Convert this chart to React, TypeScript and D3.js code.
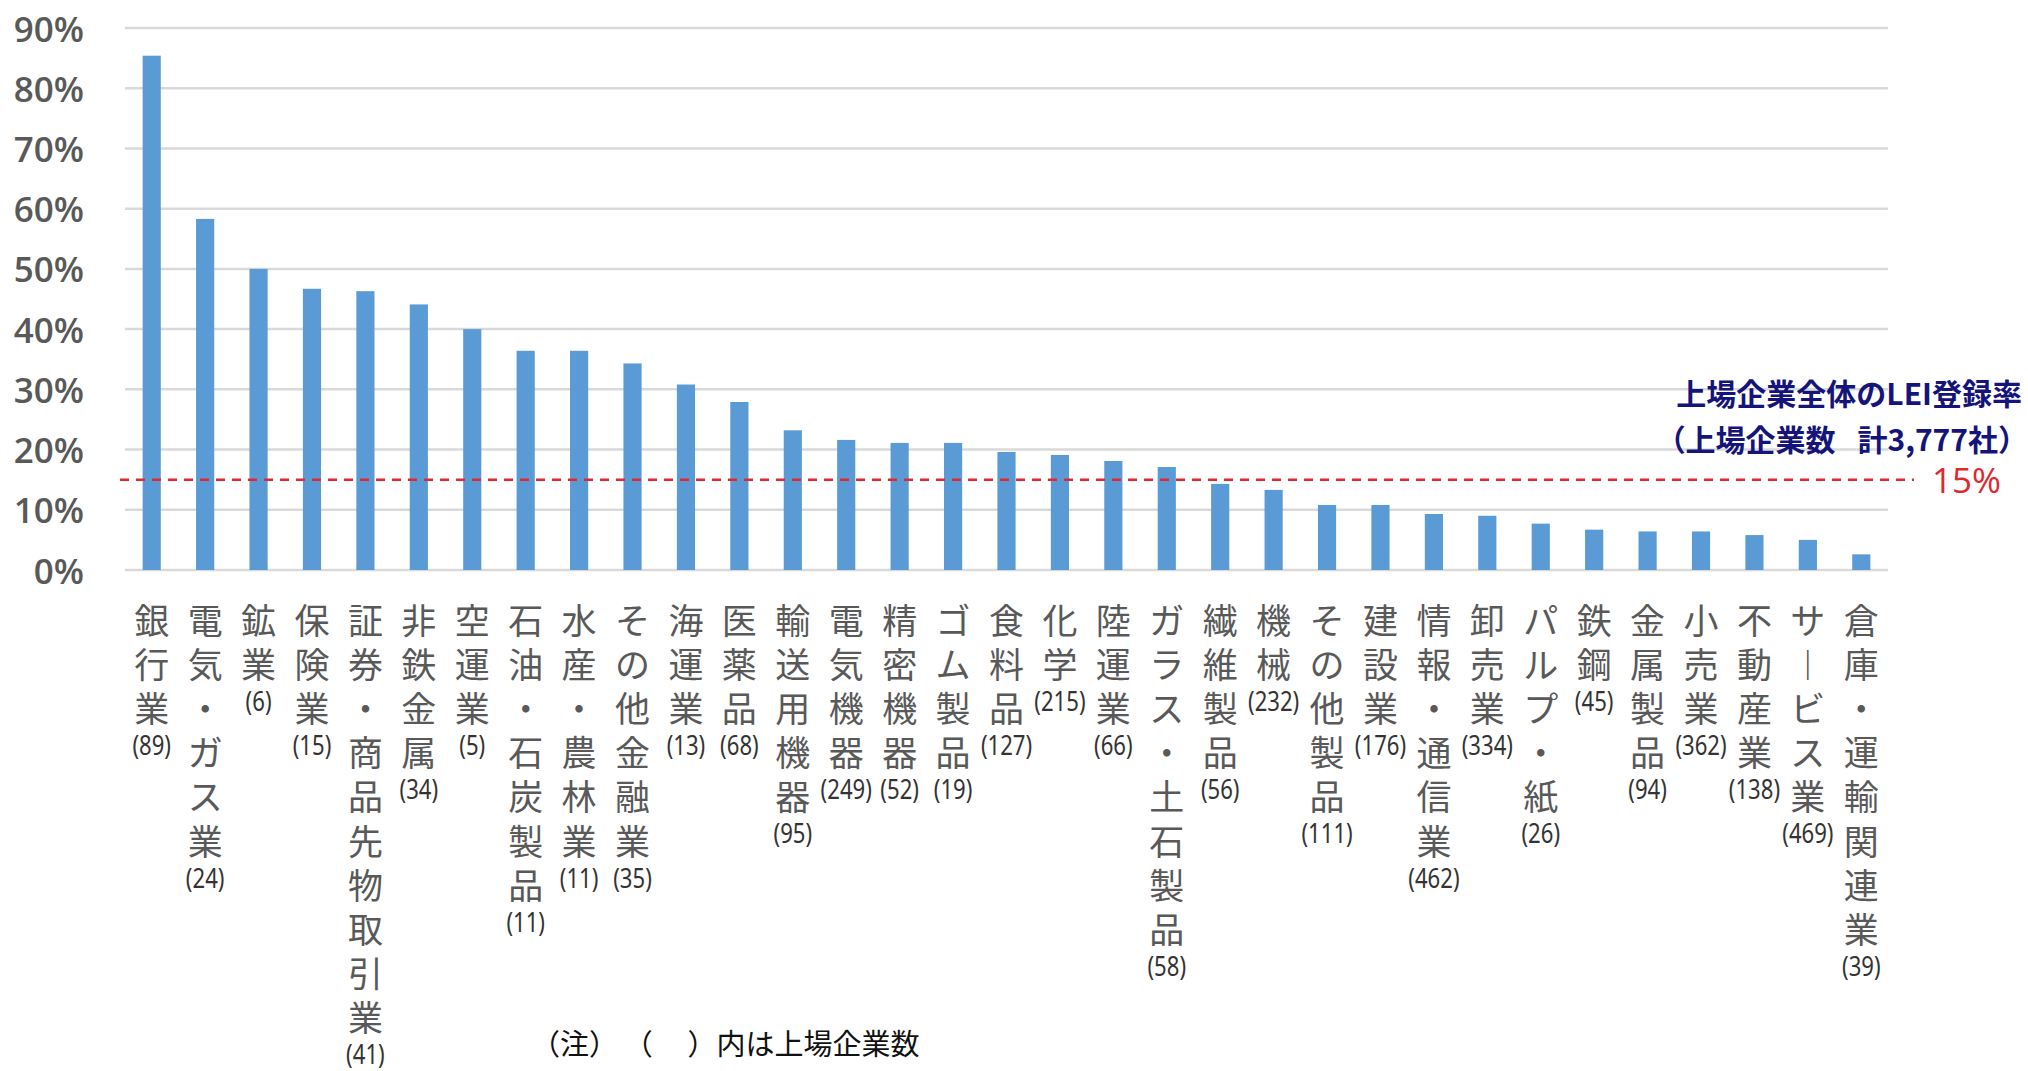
import React, { useRef, useEffect } from 'react';
import * as d3 from 'd3';

// 業種別 LEI 登録率（上場企業）
const categories = [
  '銀行業', '電気・ガス業', '鉱業', '保険業', '証券・商品先物取引業', '非鉄金属', '空運業',
  '石油・石炭製品', '水産・農林業', 'その他金融業', '海運業', '医薬品', '輸送用機器', '電気機器',
  '精密機器', 'ゴム製品', '食料品', '化学', '陸運業', 'ガラス・土石製品', '繊維製品', '機械',
  'その他製品', '建設業', '情報・通信業', '卸売業', 'パルプ・紙', '鉄鋼', '金属製品', '小売業',
  '不動産業', 'サービス業', '倉庫・運輸関連業'
];
const companyCounts = [
  89, 24, 6, 15, 41, 34, 5, 11, 11, 35, 13, 68, 95, 249, 52, 19, 127, 215, 66, 58, 56, 232,
  111, 176, 462, 334, 26, 45, 94, 362, 138, 469, 39
];
const rates = [
  0.854, 0.583, 0.5, 0.467, 0.463, 0.441, 0.40, 0.364, 0.364, 0.343, 0.308, 0.279, 0.232,
  0.216, 0.211, 0.211, 0.196, 0.191, 0.181, 0.171, 0.143, 0.133, 0.108, 0.108, 0.093, 0.09,
  0.077, 0.067, 0.064, 0.064, 0.058, 0.05, 0.026
];
const yTicks = [0, 0.1, 0.2, 0.3, 0.4, 0.5, 0.6, 0.7, 0.8, 0.9];
const overallRate = 0.15;
const overallLabel = ['上場企業全体のLEI登録率', '（上場企業数\u2002 計3,777社）'];
const note = '（注）\u2009（　\u2009）内は上場企業数';

const W = 2028;
const H = 1071;

const BarChart: React.FC = () => {
  const ref = useRef<SVGSVGElement | null>(null);

  useEffect(() => {
    const svg = d3.select(ref.current);
    svg.selectAll('*').remove();
    svg.attr('width', W).attr('height', H);

    const left = 125;
    const right = 1888;
    const x = d3.scaleBand<string>().domain(categories).range([left, right])
      .paddingInner(0.66).paddingOuter(0.33);
    const y = d3.scaleLinear().domain([0, 0.9]).range([570, 28]);
    const fmt = d3.format('.0%');

    // gridlines
    svg.append('g').selectAll('line').data(yTicks).join('line')
      .attr('x1', left).attr('x2', right)
      .attr('y1', (d) => y(d)).attr('y2', (d) => y(d))
      .attr('stroke', '#d9d9d9').attr('stroke-width', 2.5);

    // y labels
    svg.append('g').selectAll('text').data(yTicks).join('text')
      .attr('x', 84).attr('y', (d) => y(d))
      .attr('text-anchor', 'end').attr('dominant-baseline', 'central')
      .attr('font-family', '"Open Sans", "Noto Sans", sans-serif')
      .attr('font-weight', 600).attr('font-size', 35).attr('fill', '#595959')
      .text((d) => fmt(d));

    // bars
    svg.append('g').selectAll('rect').data(rates).join('rect')
      .attr('x', (_, i) => x(categories[i])!)
      .attr('width', x.bandwidth())
      .attr('y', (d) => y(d))
      .attr('height', (d) => y(0) - y(d))
      .attr('fill', '#5b9bd5');

    // average line
    svg.append('line')
      .attr('x1', 120).attr('x2', 1914)
      .attr('y1', y(overallRate)).attr('y2', y(overallRate))
      .attr('stroke', '#e0282e').attr('stroke-width', 2.5)
      .attr('stroke-dasharray', '9,7');

    svg.append('text')
      .attr('x', 1932).attr('y', y(overallRate))
      .attr('dominant-baseline', 'central')
      .attr('font-family', '"Open Sans", "Noto Sans", sans-serif')
      .attr('font-size', 35).attr('fill', '#e0282e')
      .text(fmt(overallRate));

    svg.append('g').selectAll('text').data(overallLabel).join('text')
      .attr('x', (_, i) => (i === 0 ? 2022 : 2028)).attr('y', (_, i) => 405 + i * 46)
      .attr('text-anchor', 'end')
      .attr('font-family', '"Noto Sans CJK JP", sans-serif')
      .attr('font-weight', 700).attr('font-size', 30).attr('fill', '#14147a')
      .text((d) => d);

    // vertical category labels
    const rowY = (k: number) => 618 + k * 44.2;
    const lab = svg.append('g');
    categories.forEach((c, i) => {
      const cx = x(c)! + x.bandwidth() / 2;
      const chars = Array.from(c).map((ch) => (ch === 'ー' ? '︱' : ch));
      chars.forEach((ch, k) => {
        lab.append('text')
          .attr('x', cx).attr('y', rowY(k))
          .attr('text-anchor', 'middle').attr('dominant-baseline', 'central')
          .attr('font-family', '"Noto Sans CJK JP", sans-serif')
          .attr('font-size', 35).attr('fill', '#595959')
          .text(ch);
      });
      lab.append('text')
        .attr('transform', `translate(${cx},${rowY(chars.length) - 6}) scale(0.82,1)`)
        .attr('text-anchor', 'middle').attr('dominant-baseline', 'central')
        .attr('font-family', '"Noto Sans", sans-serif')
        .attr('font-size', 27).attr('fill', '#333333')
        .text(`(${companyCounts[i]})`);
    });

    svg.append('text')
      .attr('x', 531).attr('y', 1042)
      .attr('dominant-baseline', 'central')
      .attr('font-family', '"Noto Sans CJK JP", sans-serif')
      .attr('font-size', 29).attr('fill', '#111111')
      .text(note);
  }, []);

  return (
    <div style={{ position: 'absolute', left: 0, top: 0 }}>
      <svg ref={ref} style={{ display: 'block', background: '#ffffff' }} />
    </div>
  );
};

export default BarChart;
